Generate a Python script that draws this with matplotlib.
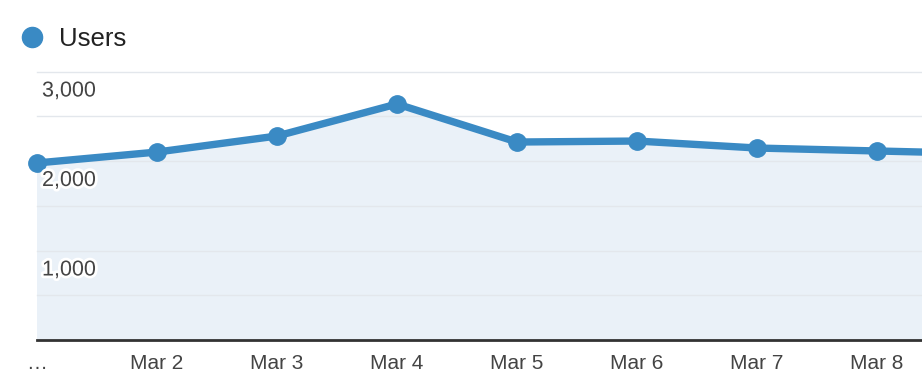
import matplotlib
matplotlib.use("Agg")
import matplotlib.pyplot as plt
import matplotlib.patheffects as pe
import numpy as np

plt.rcParams['font.family'] = ['Liberation Sans', 'DejaVu Sans']

series_name = "Users"
x_labels = ["…", "Mar 2", "Mar 3", "Mar 4", "Mar 5", "Mar 6", "Mar 7", "Mar 8", "Mar 9"]
users = [1978, 2100, 2279, 2637, 2212, 2223, 2145, 2112, 2080]
y_major = [1000, 2000, 3000]
y_minor = [500, 1500, 2500]
y_labels = ["1,000", "2,000", "3,000"]

line_color = "#3a8ac4"
fill_color = "#eaf1f8"

fig = plt.figure(figsize=(9.22, 3.76), dpi=100)
ax = fig.add_axes([37/922, 36/376, 1 - 37/922, (340-71.5)/376])
x = np.arange(len(users))
ax.fill_between(x, users, 0, color=fill_color, zorder=1, linewidth=0)
for v in y_major + y_minor:
    ax.axhline(v, color="#e3e7ec", lw=1, zorder=1.5, clip_on=False)
ax.plot(x, users, color=line_color, lw=5.3, marker='o', markersize=12.5,
        solid_capstyle='round', zorder=3, clip_on=False)
ax.set_xlim(0, 7.375)
ax.set_ylim(0, 3000)
for s in ["top", "right", "left"]:
    ax.spines[s].set_visible(False)
ax.spines["bottom"].set_color("#333333")
ax.spines["bottom"].set_linewidth(2)
ax.spines["bottom"].set_zorder(4)
ax.set_yticks([])
ax.set_xticks(x[:8])
ax.set_xticklabels(x_labels[:8], fontsize=15, color="#444444")
ax.tick_params(axis='x', length=0, pad=10)

for v, lab in zip(y_major, y_labels):
    ax.annotate(lab, xy=(0, v), xycoords='data', xytext=(5, -9), textcoords='offset pixels',
                ha='left', va='top', fontsize=15.5, color="#444444", zorder=5,
                path_effects=[pe.withStroke(linewidth=4, foreground='white')])

# legend
fig.add_artist(matplotlib.lines.Line2D([32/922], [1 - 37/376], marker='o', markersize=14.5,
                                        color=line_color, linestyle='None', transform=fig.transFigure))
fig.text(59/922, 1 - 39/376, series_name, fontsize=18.5, color="#222222", va='center', ha='left')

fig.savefig("out.png", dpi=100)
